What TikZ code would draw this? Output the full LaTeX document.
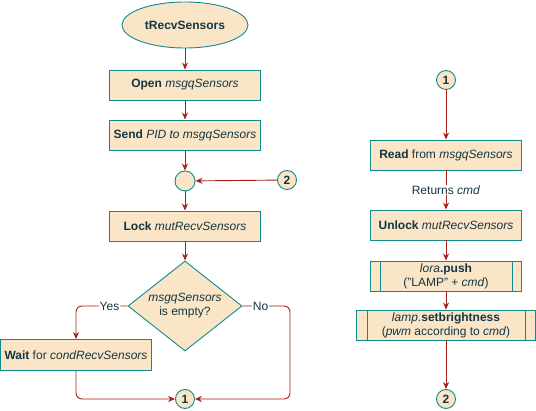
\documentclass[tikz,border=0pt]{standalone}
\usepackage{fontspec}
\setmainfont{Liberation Sans}
\usetikzlibrary{shapes.geometric,arrows.meta,calc}
\definecolor{fillc}{HTML}{FAE5C7}
\definecolor{strokec}{HTML}{0F8B8D}
\definecolor{edgec}{HTML}{A8201A}
\definecolor{textc}{HTML}{143642}
\begin{document}
\begin{tikzpicture}[x=1pt,y=-1pt,
  every node/.style={font=\fontsize{12}{14}\selectfont, text=textc},
  base/.style={draw=strokec, fill=fillc, line width=0.9pt, inner sep=0pt, align=center},
  box/.style={base, rectangle, minimum width=151pt, minimum height=30pt},
  term/.style={base, ellipse, minimum width=126pt, minimum height=46pt},
  junc/.style={base, circle, minimum size=20pt},
  conn/.style={base, circle, minimum size=19pt, font=\fontsize{12}{14}\selectfont\bfseries},
  dec/.style={base, diamond, minimum width=114pt, minimum height=90pt, aspect=1.27},
  edge/.style={draw=edgec, line width=0.9pt, -{Stealth[length=7pt,width=6pt]}},
  lbl/.style={fill=white, inner sep=1pt, text=textc},
  subline/.style={draw=strokec, line width=0.9pt}
]
\useasboundingbox (0,0) rectangle (536,411);

% left column
\node[term] (start) at (185,25) {\bfseries tRecvSensors};
\node[box] (open) at (185,85) {\textbf{Open} \textit{msgqSensors}};
\node[box] (send) at (185,135) {\textbf{Send} \textit{PID to msgqSensors}};
\node[junc] (j) at (185,181) {};
\node[conn] (c2a) at (287,180) {2};
\node[box] (lock) at (185,226) {\textbf{Lock} \textit{mutRecvSensors}};
\node[dec] (d) at (185,306) {\textit{msgqSensors}\\is empty?};
\node[box, minimum height=31pt] (wait) at (76,355) {\textbf{Wait} for \textit{condRecvSensors}};
\node[conn] (c1a) at (185,399) {1};
\coordinate (yesc) at (76,306);
\coordinate (noc) at (290,306);

% right column
\node[conn] (c1b) at (446,80) {1};
\node[box] (read) at (446,155) {\textbf{Read} from \textit{msgqSensors}};
\node[box] (unlock) at (446,225) {\textbf{Unlock} \textit{mutRecvSensors}};
\node[box] (lora) at (446,276) {\textit{lora}\textbf{.push}\\("LAMP" + \textit{cmd})};
\node[box, minimum width=179pt] (lamp) at (446,325) {\textit{lamp}.\textbf{setbrightness}\\(\textit{pwm} according to \textit{cmd})};
\node[conn] (c2b) at (446,399) {2};

\draw[subline] ($(lora.north west)+(10,0)$) -- ($(lora.south west)+(10,0)$);
\draw[subline] ($(lora.north east)+(-10,0)$) -- ($(lora.south east)+(-10,0)$);
\draw[subline] ($(lamp.north west)+(11,0)$) -- ($(lamp.south west)+(11,0)$);
\draw[subline] ($(lamp.north east)+(-11,0)$) -- ($(lamp.south east)+(-11,0)$);

% edges left
\draw[edge] (start) -- (open);
\draw[edge] (open) -- (send);
\draw[edge] (send) -- (j);
\draw[edge] (c2a) -- (j);
\draw[edge] (j) -- (lock);
\draw[edge] (lock) -- (d);
\draw[edge, rounded corners=6pt] (d.west) -- node[lbl, pos=0.35]{Yes} (yesc) -- (wait.north);
\draw[edge, rounded corners=6pt] (d.east) -- node[lbl, pos=0.38]{No} (noc) |- (c1a.east);
\draw[edge, rounded corners=6pt] (wait.south) |- (c1a.west);

% edges right
\draw[edge] (c1b) -- (read);
\draw[edge] (read) -- node[lbl]{Returns \textit{cmd}} (unlock);
\draw[edge] (unlock) -- (lora);
\draw[edge] (lora) -- (lamp);
\draw[edge] (lamp) -- (c2b);
\end{tikzpicture}
\end{document}
